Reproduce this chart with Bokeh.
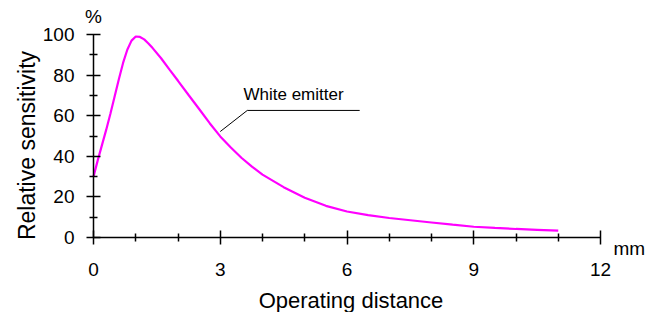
import math
from bokeh.plotting import figure
from bokeh.models import Range1d, FixedTicker, Label
from bokeh.embed import file_html
from bokeh.resources import INLINE

# Data
distance_mm = [0, 0.1, 0.2, 0.3, 0.4, 0.5, 0.6, 0.7, 0.8, 0.9, 1.0, 1.1, 1.2,
               1.3, 1.4, 1.6, 1.8, 2.0, 2.25, 2.5, 2.75, 3.0, 3.25, 3.5, 3.75,
               4.0, 4.5, 5.0, 5.5, 6.0, 6.5, 7.0, 7.5, 8.0, 8.5, 9.0, 9.5,
               10.0, 10.5, 11.0]
sensitivity_pct = [30, 38, 45.5, 53, 61, 69.5, 78, 86, 92.5, 97, 99, 98.8, 97.6,
                   95.6, 93.3, 88.3, 82.7, 77.2, 70.2, 63.3, 56.3, 49.8, 44.3, 39.3, 34.9,
                   31, 24.8, 19.6, 15.6, 12.8, 11.0, 9.6, 8.5, 7.4, 6.3, 5.3, 4.7,
                   4.2, 3.8, 3.4]

x_major_ticks = [0, 3, 6, 9, 12]
x_minor_ticks = [1, 2, 4, 5, 7, 8, 10, 11]
y_major_ticks = [0, 20, 40, 60, 80, 100]
y_minor_ticks = [10, 30, 50, 70, 90]
x_axis_end = 12
y_axis_end = 100

series_label = "White emitter"
leader_x = [3.0, 3.64, 6.30]
leader_y = [52.2, 62.6, 62.6]
label_x, label_y = 3.55, 67.5

x_title = "Operating distance"
y_title = "Relative sensitivity"
x_unit = "mm"
y_unit = "%"

FONT = "Liberation Sans"

W, H = 660, 312
PX_PER_X = 42.25      # pixels per mm
PX_PER_Y = 2.03       # pixels per %
ORIGIN_X, ORIGIN_Y = 93, 237   # pixel position of (0, 0)

x_start = -ORIGIN_X / PX_PER_X
y_end = ORIGIN_Y / PX_PER_Y

p = figure(width=W, height=H, output_backend="svg", toolbar_location=None,
           x_range=Range1d(x_start, x_start + W / PX_PER_X),
           y_range=Range1d(y_end - H / PX_PER_Y, y_end),
           min_border=0)
p.outline_line_color = None
p.grid.visible = False
p.background_fill_color = "white"
p.border_fill_color = "white"

p.line(distance_mm, sensitivity_pct, line_color="#FF00FF", line_width=2.2)
p.line(leader_x, leader_y, line_color="black", line_width=1)

p.xaxis.ticker = FixedTicker(ticks=x_major_ticks, minor_ticks=x_minor_ticks)
p.yaxis.ticker = FixedTicker(ticks=y_major_ticks, minor_ticks=y_minor_ticks)
p.xaxis.bounds = (0, x_axis_end)
p.yaxis.bounds = (0, y_axis_end)
p.xaxis.fixed_location = 0
p.yaxis.fixed_location = 0

for ax in (p.xaxis[0], p.yaxis[0]):
    ax.axis_line_color = "black"
    ax.axis_line_width = 1.5
    ax.major_tick_line_color = "black"
    ax.major_tick_line_width = 1.5
    ax.minor_tick_line_color = "black"
    ax.minor_tick_line_width = 1.5
    ax.major_tick_in = 7
    ax.major_tick_out = 7
    ax.minor_tick_in = 4
    ax.minor_tick_out = 4
    ax.major_label_text_font = FONT
    ax.major_label_text_font_size = "19px"
    ax.major_label_text_color = "black"

p.xaxis.major_label_standoff = 18
p.yaxis.major_label_standoff = 12

# axis titles and units
p.add_layout(Label(x=6, y=0, text=x_title, text_font=FONT, text_font_size="22px",
                   text_align="center", text_baseline="alphabetic",
                   x_offset=4, y_offset=-63, text_color="black"))
p.add_layout(Label(x=0, y=0, text=y_title, text_font=FONT, text_font_size="23px",
                   text_align="center", text_baseline="alphabetic", angle=math.pi / 2,
                   x_offset=-67, y_offset=92, text_color="black"))
p.add_layout(Label(x=0, y=y_axis_end, text=y_unit, text_font=FONT, text_font_size="19px",
                   text_align="center", text_baseline="middle", y_offset=18.5,
                   text_color="black"))
p.add_layout(Label(x=x_axis_end, y=0, text=x_unit, text_font=FONT, text_font_size="19px",
                   text_align="left", text_baseline="alphabetic", x_offset=13,
                   y_offset=-11, text_color="black"))

p.add_layout(Label(x=label_x, y=label_y, text=series_label, text_font=FONT,
                   text_font_size="17px", y_offset=-4, text_color="black"))

open("out.html", "w").write(file_html(p, INLINE))
